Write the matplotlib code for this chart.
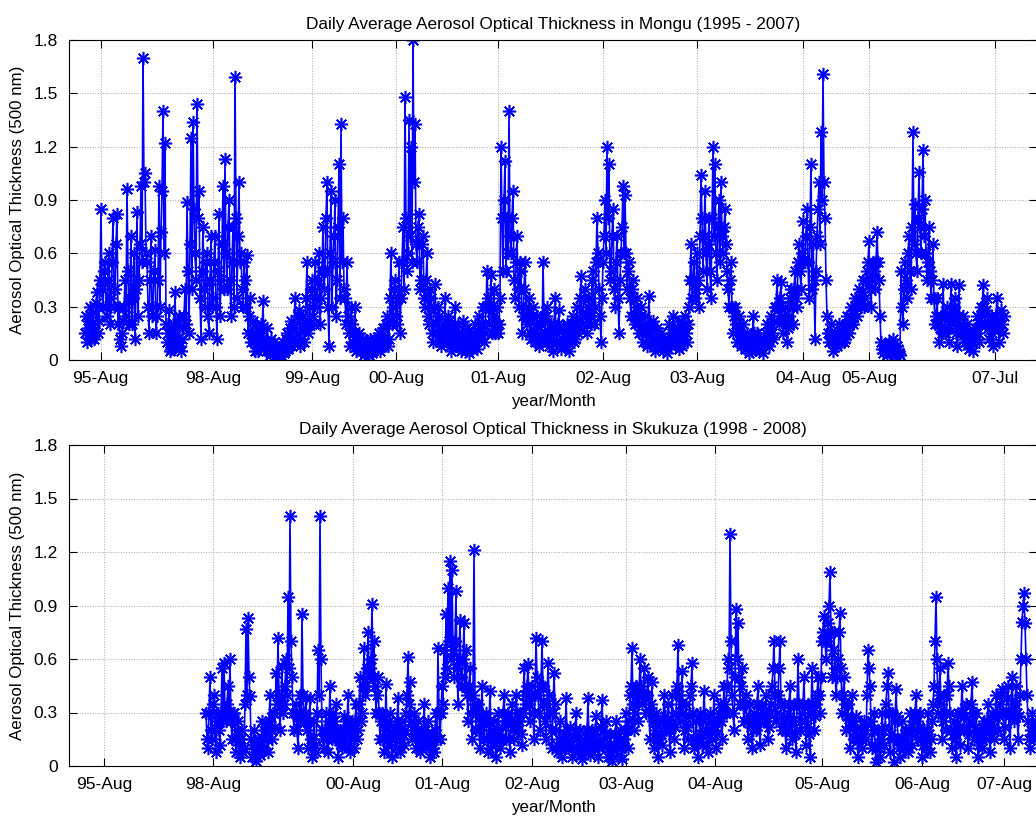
import numpy as np
import matplotlib
matplotlib.use("Agg")
import matplotlib.pyplot as plt

plt.rcParams['font.family'] = ['Liberation Sans', 'DejaVu Sans']

# ---------------- data (sample index axis) ----------------
# Each station: two interleaved lists of daily values;
# list "a" sits at start + 6*i, list "b" at start + 3 + 6*i.
mongu_start = 48
mongu_aot_a = [
    .15, .10, .22, .12, .27, .16, .38, .22, .85, .30,
    .55, .25, .60, .35, .80, .40, .82, .30, .08, .22,
    .45, .96, .20, .70, .35, .12, .83, .45, .98, 1.70,
    1.05, .55, .15, .70, .30, .62, .25, .98, .72, 1.40,
    1.22, .10, .28, .06, .20, .38, .08, .25, .05, .18,
    .40, .89, .15, 1.25, 1.34, .60, 1.44, .95, .12, .75,
    .30, .60, .15, .70, .35, .70, .12, .82, .45, .98,
    1.13, .40, .90, .25, .75, 1.59, .35, 1.00, .60, .30,
    .45, .59, .25, .10, .22, .05, .18, .08, .20, .33,
    .10, .18, .06, .12, .04, .08, .02, .06, .03, .10,
    .05, .15, .08, .22, .10, .35, .15, .28, .12, .25,
    .18, .55, .20, .40, .25, .55, .30, .60, .35, .75,
    .50, 1.00, .08, .95, .55, .90, .45, 1.10, 1.33, .80,
    .35, .55, .15, .30, .10, .30, .08, .15, .05, .12,
    .04, .10, .03, .08, .05, .12, .06, .15, .08, .18,
    .10, .25, .12, .60, .30, .45, .20, .55, .35, .75,
    1.48, .50, 1.35, 1.20, 1.80, 1.33, .55, .82, .45, .70,
    .30, .60, .20, .35, .10, .43, .15, .25, .08, .20,
    .35, .10, .22, .05, .18, .30, .08, .15, .05, .22,
    .10, .18, .04, .14, .08, .20, .06, .25, .12, .30,
    .15, .50, .20, .48, .25, .15, .30, .20, 1.20, .50,
    1.12, .80, 1.40, .60, .95, .35, .70, .30, .50, .25,
    .55, .20, .35, .12, .30, .10, .25, .08, .20, .55,
    .15, .30, .08, .20, .05, .35, .10, .28, .06, .18,
    .08, .20, .05, .15, .25, .12, .30, .18, .47, .25,
    .40, .15, .35, .20, .50, .30, .80, .40, .10, .55,
    .90, 1.20, 1.10, .50, .85, .30, .70, .15, .60, .98,
    .93, .40, .55, .25, .45, .20, .35, .15, .30, .10,
    .25, .08, .36, .12, .22, .05, .18, .08, .15, .05,
    .12, .04, .20, .08, .25, .10, .18, .06, .22, .12,
    .25, .10, .30, .65, .45, .35, .60, .30, 1.04, .50,
    .95, .40, .80, .35, 1.20, 1.10, .45, .90, 1.00, .60,
    .85, .50, .30, .55, .15, .30, .10, .25, .08, .20,
    .06, .15, .04, .12, .25, .08, .15, .05, .12, .04,
    .10, .20, .08, .25, .12, .30, .45, .20, .44, .15,
    .30, .10, .25, .40, .20, .50, .30, .65, .40, .78,
    .55, .85, .35, 1.10, .65, .12, .70, 1.00, 1.28, 1.61,
    .80, .25, .10, .20, .05, .15, .08, .20, .10, .18,
    .12, .25, .15, .30, .20, .35, .25, .40, .30, .45,
    .35, .50, .67, .30, .55, .40, .72, .45, .10, .04,
    .08, .03, .10, .05, .12, .02, .08, .04, .50, .20,
    .55, .35, .70, .40, 1.28, .88, .50, 1.06, .60, 1.18,
    .90, .45, .75, .35, .65, .20, .35, .10, .25, .43,
    .15, .30, .10, .43, .20, .35, .08, .42, .15, .25,
    .10, .20, .06, .15, .05, .18, .25, .10, .30, .42,
    .20, .35, .12, .25, .08, .20, .35, .10, .28, .15,
]
mongu_aot_b = [
    .25, .18, .30, .20, .12, .32, .15, .45, .40, .50,
    .30, .45, .20, .55, .30, .65, .20, .12, .15, .30,
    .25, .50, .35, .20, .60, .40, .25, .65, .55, 1.00,
    .60, .30, .45, .25, .50, .15, .45, .30, .95, .60,
    .20, .15, .05, .15, .10, .12, .20, .08, .12, .25,
    .20, .50, .65, .40, .85, .45, .80, .35, .50, .40,
    .55, .25, .45, .30, .55, .30, .50, .25, .65, .40,
    .60, .75, .45, .55, .30, .80, .70, .55, .40, .55,
    .30, .15, .35, .15, .10, .15, .05, .15, .12, .10,
    .05, .10, .03, .06, .10, .03, .05, .02, .07, .04,
    .12, .06, .18, .08, .20, .12, .25, .08, .20, .10,
    .35, .15, .30, .45, .20, .35, .45, .20, .50, .40,
    .80, .30, .60, .30, .70, .25, .75, .35, .55, .40,
    .20, .25, .08, .20, .15, .05, .12, .06, .10, .03,
    .08, .05, .12, .04, .10, .06, .13, .05, .12, .08,
    .20, .08, .35, .20, .40, .25, .35, .15, .55, .40,
    .80, .60, .70, .55, 1.00, .65, .75, .40, .65, .35,
    .45, .25, .40, .15, .30, .20, .30, .10, .15, .12,
    .15, .25, .08, .15, .12, .08, .20, .10, .15, .08,
    .05, .10, .12, .06, .15, .10, .12, .15, .20, .10,
    .30, .35, .30, .15, .40, .20, .15, .35, .80, .90,
    .50, .60, .70, .80, .45, .55, .40, .55, .15, .40,
    .30, .25, .15, .25, .15, .20, .12, .15, .10, .25,
    .25, .12, .15, .10, .20, .15, .20, .10, .12, .10,
    .15, .10, .12, .20, .10, .22, .15, .35, .20, .35,
    .25, .30, .25, .45, .20, .55, .60, .25, .35, .70,
    .60, .80, .45, .70, .40, .55, .35, .45, .75, .60,
    .60, .50, .35, .40, .25, .30, .20, .25, .15, .20,
    .15, .20, .15, .18, .10, .12, .10, .12, .10, .08,
    .08, .12, .10, .15, .18, .12, .10, .14, .08, .18,
    .15, .20, .45, .35, .55, .40, .45, .70, .80, .70,
    .60, .65, .50, .80, .70, .60, .75, .55, .70, .75,
    .65, .40, .45, .30, .25, .20, .18, .15, .12, .10,
    .12, .08, .10, .05, .15, .12, .08, .10, .08, .12,
    .15, .12, .18, .15, .22, .30, .30, .35, .25, .22,
    .20, .18, .35, .30, .40, .35, .55, .50, .60, .55,
    .70, .55, .75, .40, .45, .50, .85, .65, .90, 1.00,
    .45, .15, .15, .10, .12, .10, .15, .12, .14, .10,
    .20, .18, .25, .22, .28, .30, .32, .35, .38, .30,
    .45, .55, .40, .45, .50, .55, .55, .25, .06, .06,
    .05, .07, .04, .08, .06, .05, .06, .03, .30, .40,
    .45, .60, .50, .75, .65, .60, .80, .75, .85, .70,
    .60, .55, .50, .45, .35, .25, .20, .18, .15, .25,
    .25, .18, .22, .25, .30, .15, .25, .20, .18, .12,
    .15, .10, .12, .10, .12, .15, .15, .20, .25, .30,
    .28, .18, .20, .15, .18, .25, .20, .18, .20, .25,
]

skukuza_start = 411
skukuza_aot_a = [
    .30, .10, .50, .15, .40, .08, .30, .12, .55, .58,
    .25, .45, .60, .15, .30, .08, .25, .05, .20, .10,
    .77, .83, .39, .05, .20, .03, .15, .06, .25, .10,
    .22, .08, .40, .15, .30, .52, .72, .20, .56, .35,
    .60, .95, 1.40, .50, .20, .35, .10, .40, .85, .25,
    .38, .10, .38, .05, .25, .08, .65, 1.40, .20, .10,
    .30, .08, .45, .15, .25, .35, .05, .20, .10, .28,
    .12, .40, .08, .25, .10, .35, .20, .50, .30, .66,
    .45, .75, .55, .91, .70, .30, .50, .15, .30, .08,
    .46, .12, .30, .05, .22, .10, .38, .08, .25, .12,
    .30, .61, .47, .15, .30, .10, .25, .08, .20, .35,
    .10, .25, .05, .18, .08, .30, .66, .15, .45, .65,
    .85, 1.00, 1.15, 1.10, .50, .98, .35, .82, .45, .80,
    .65, .25, .55, .15, 1.21, .20, .35, .10, .45, .15,
    .30, .08, .42, .12, .25, .05, .30, .10, .22, .40,
    .15, .30, .08, .35, .15, .40, .20, .30, .12, .55,
    .35, .57, .25, .45, .15, .72, .40, .20, .70, .35,
    .15, .58, .30, .10, .52, .20, .08, .25, .05, .18,
    .38, .10, .22, .05, .15, .30, .08, .20, .04, .15,
    .10, .38, .06, .20, .10, .28, .05, .15, .37, .12,
    .25, .05, .18, .03, .12, .25, .06, .20, .04, .15,
    .30, .10, .40, .66, .20, .45, .25, .60, .35, .55,
    .30, .50, .15, .47, .10, .30, .05, .25, .12, .40,
    .20, .35, .08, .40, .15, .30, .68, .25, .53, .10,
    .35, .15, .40, .58, .10, .25, .05, .30, .12, .42,
    .20, .08, .30, .15, .40, .10, .25, .35, .15, .45,
    .30, .60, 1.30, .40, .20, .88, .80, .35, .55, .25,
    .40, .15, .35, .10, .30, .20, .45, .12, .35, .25,
    .40, .15, .30, .45, .70, .25, .40, .70, .20, .35,
    .10, .30, .45, .15, .35, .08, .60, .20, .30, .50,
    .12, .35, .05, .55, .20, .35, .50, .30, .70, .84,
    .60, .80, 1.09, .50, .75, .40, .60, .86, .30, .50,
    .20, .35, .10, .40, .15, .28, .05, .22, .10, .25,
    .15, .65, .45, .10, .30, .02, .20, .05, .30, .12,
    .35, .52, .08, .30, .02, .43, .15, .05, .25, .10,
    .20, .08, .30, .12, .25, .40, .15, .30, .05, .20,
    .10, .30, .08, .25, .45, .95, .30, .55, .15, .40,
    .20, .58, .30, .10, .25, .05, .30, .12, .45, .20,
    .35, .10, .25, .47, .15, .30, .05, .20, .10, .25,
    .15, .35, .08, .30, .15, .40, .20, .35, .43, .15,
    .30, .45, .10, .50, .25, .45, .15, .40, .81, .97,
    .60, .25, .10, .30, .15, .25,
]
skukuza_aot_b = [
    .15, .30, .20, .35, .20, .25, .20, .30, .25, .30,
    .35, .30, .25, .30, .15, .20, .12, .15, .08, .35,
    .40, .50, .15, .12, .08, .10, .08, .12, .15, .20,
    .15, .25, .20, .30, .22, .35, .40, .35, .30, .45,
    .40, .55, .70, .30, .30, .20, .25, .30, .40, .30,
    .20, .25, .15, .15, .12, .30, .40, .60, .15, .20,
    .15, .25, .20, .30, .15, .20, .15, .12, .20, .15,
    .25, .20, .15, .20, .25, .15, .35, .25, .45, .40,
    .55, .50, .60, .50, .45, .40, .30, .25, .15, .20,
    .20, .25, .15, .18, .15, .25, .20, .15, .18, .20,
    .40, .35, .25, .20, .18, .20, .15, .15, .12, .20,
    .18, .12, .15, .10, .20, .15, .30, .30, .35, .50,
    .55, .70, .60, .65, .70, .55, .60, .50, .60, .45,
    .40, .45, .30, .40, .35, .30, .20, .25, .25, .25,
    .15, .25, .20, .18, .15, .20, .18, .15, .30, .25,
    .25, .15, .25, .20, .25, .30, .25, .18, .30, .40,
    .45, .35, .40, .30, .40, .50, .30, .45, .45, .25,
    .35, .40, .20, .30, .35, .12, .15, .12, .15, .10,
    .20, .15, .12, .10, .20, .15, .12, .10, .12, .08,
    .20, .15, .12, .15, .20, .12, .10, .22, .20, .18,
    .12, .10, .08, .10, .18, .12, .14, .10, .12, .20,
    .20, .25, .45, .35, .30, .40, .40, .45, .40, .40,
    .40, .30, .35, .25, .20, .15, .15, .18, .25, .28,
    .25, .20, .22, .25, .22, .45, .40, .35, .30, .20,
    .22, .28, .45, .30, .15, .15, .15, .18, .25, .28,
    .12, .18, .22, .25, .20, .18, .30, .25, .30, .35,
    .45, .55, .70, .30, .50, .60, .50, .45, .35, .35,
    .25, .28, .22, .20, .25, .35, .25, .25, .30, .30,
    .25, .22, .35, .55, .40, .30, .55, .35, .25, .20,
    .20, .35, .25, .25, .18, .35, .35, .25, .35, .25,
    .22, .18, .30, .35, .28, .40, .40, .50, .75, .70,
    .70, .90, .75, .65, .55, .50, .75, .55, .40, .35,
    .28, .22, .25, .25, .20, .15, .15, .15, .18, .20,
    .40, .55, .25, .20, .12, .10, .10, .15, .20, .22,
    .45, .30, .18, .15, .25, .28, .10, .15, .15, .15,
    .12, .20, .18, .20, .30, .25, .22, .15, .12, .15,
    .20, .18, .15, .35, .70, .60, .40, .35, .25, .30,
    .40, .45, .20, .18, .15, .20, .22, .30, .30, .28,
    .20, .18, .35, .30, .22, .18, .12, .15, .18, .20,
    .25, .20, .18, .22, .28, .30, .28, .40, .30, .22,
    .38, .28, .30, .35, .35, .30, .28, .60, .90, .80,
    .40, .15, .20, .22, .20, .20,
]
day_step = 6

mongu_tick_pos = [95, 432, 729, 981, 1287, 1602, 1884, 2202, 2400, 2778]
mongu_tick_lbl = ['95-Aug', '98-Aug', '99-Aug', '00-Aug', '01-Aug', '02-Aug',
                  '03-Aug', '04-Aug', '05-Aug', '07-Jul']
skukuza_tick_pos = [105, 432, 852, 1119, 1389, 1671, 1938, 2259, 2559, 2805]
skukuza_tick_lbl = ['95-Aug', '98-Aug', '00-Aug', '01-Aug', '02-Aug', '03-Aug',
                    '04-Aug', '05-Aug', '06-Aug', '07-Aug']
y_ticks = [0, 0.3, 0.6, 0.9, 1.2, 1.5, 1.8]
y_tick_lbl = ['0', '0.3', '0.6', '0.9', '1.2', '1.5', '1.8']
x_max = 2904

titles = ['Daily Average Aerosol Optical Thickness in Mongu (1995 - 2007)',
          'Daily Average Aerosol Optical Thickness in Skukuza (1998 - 2008)']


def merge(start, a, b):
    n = len(a)
    x = np.empty(2 * n)
    y = np.empty(2 * n)
    x[0::2] = start + day_step * np.arange(n)
    x[1::2] = start + day_step * np.arange(n) + day_step / 2
    y[0::2] = a
    y[1::2] = b
    return x, y


# ---------------- figure ----------------
fig = plt.figure(figsize=(10.36, 8.16), dpi=100)
W, H = 1036, 816
ax1 = fig.add_axes([69 / W, 1 - 360 / H, 968 / W, 320 / H])
ax2 = fig.add_axes([69 / W, 1 - 766 / H, 968 / W, 321 / H])

asterisk = (8, 2, 0)

panels = [
    (ax1, merge(mongu_start, mongu_aot_a, mongu_aot_b), mongu_tick_pos, mongu_tick_lbl, titles[0]),
    (ax2, merge(skukuza_start, skukuza_aot_a, skukuza_aot_b), skukuza_tick_pos, skukuza_tick_lbl, titles[1]),
]

for ax, (x, vals), tpos, tlbl, title in panels:
    ax.plot(x, vals, color='b', linewidth=1.2, marker=asterisk, markersize=9.5,
            markeredgewidth=1.15, markerfacecolor='none', markeredgecolor='b')
    ax.set_xlim(0, x_max)
    ax.set_ylim(0, 1.8)
    ax.set_xticks(tpos)
    ax.set_xticklabels(tlbl)
    ax.set_yticks(y_ticks)
    ax.set_yticklabels(y_tick_lbl)
    ax.grid(True, linestyle=':', color='#a8a8a8', linewidth=0.7)
    ax.tick_params(direction='in', length=6, width=0.8, top=True, right=True,
                   labelsize=12.5, pad=8, colors='black')
    for s in ax.spines.values():
        s.set_linewidth(0.8)
    ax.set_title(title, fontsize=12.4, pad=8)
    ax.set_xlabel('year/Month', fontsize=12.2, labelpad=6)
    ax.set_ylabel('Aerosol Optical Thickness (500 nm)', fontsize=12.2, labelpad=6)

fig.savefig('out.png', dpi=100)
